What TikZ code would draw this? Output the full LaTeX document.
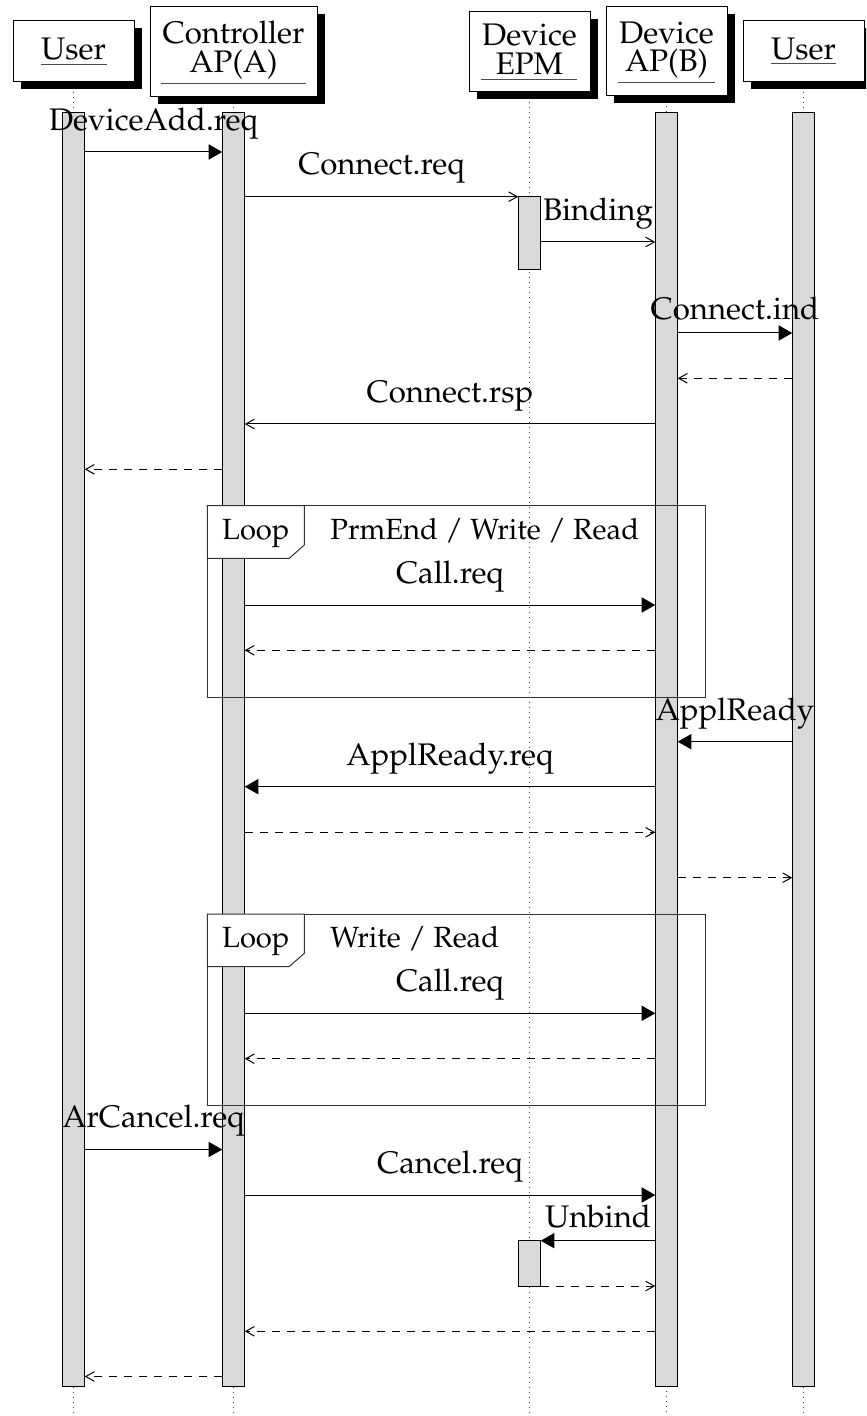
\documentclass[tikz,border=0pt]{standalone}
\usepackage[T1]{fontenc}
\usepackage{mathpazo}
\usetikzlibrary{arrows.meta,shadows,backgrounds}
\definecolor{barfill}{RGB}{217,217,217}

\tikzset{
  txt/.style={inner sep=0pt, font=\fontsize{15.6}{18.7}\selectfont},
  hdr/.style={draw=black, line width=0.5pt, fill=white, inner sep=0pt, outer sep=0pt,
    drop shadow={shadow xshift=4pt, shadow yshift=-3.5pt, fill=black, opacity=1}},
  life/.style={black!75, line width=0.5pt, dash pattern=on 0.5pt off 2pt},
  uline/.style={black!70, line width=0.5pt},
  actbar/.style={draw=black, fill=barfill, line width=0.5pt, inner sep=0pt,
    outer sep=0pt, minimum width=11.25pt, anchor=north},
  loopframe/.style={draw=black!80, line width=0.5pt, inner sep=0pt, outer sep=0pt,
    minimum width=248.85pt, minimum height=95.8pt, anchor=north west},
  looptag/.style={draw=black!80, fill=white, line width=0.5pt},
  looptxt/.style={inner sep=0pt, font=\fontsize{14.6}{17.5}\selectfont},
  callmsg/.style={draw=black, line width=0.5pt, -{Triangle[length=6.8pt,width=7.6pt]}},
  sendmsg/.style={draw=black, line width=0.5pt, -{Straight Barb[length=4.3pt,width=4.8pt]}},
  retmsg/.style={sendmsg, dash pattern=on 4pt off 3.5pt},
  lbl/.style={txt, anchor=south, yshift=6.2pt}
}

\begin{document}
\begin{tikzpicture}[x=0.5pt, y=-0.5pt]
\path[use as bounding box] (0,0) rectangle (866,1416);
\clip (0,0) rectangle (866,1416);

% ---- object headers ----
\node[hdr, minimum width=60.5pt, minimum height=30.5pt] (h1) at (73.5,51.5) {};
\node[hdr, minimum width=83.5pt, minimum height=45pt]   (h2) at (233.5,52) {};
\node[hdr, minimum width=60.5pt, minimum height=40pt]   (h3) at (529.5,52) {};
\node[hdr, minimum width=60.5pt, minimum height=44.5pt] (h4) at (666.5,51.5) {};
\node[hdr, minimum width=60.5pt, minimum height=30.5pt] (h5) at (803.5,51.5) {};

\node[txt, anchor=base] (t1)  at (73.5,60)    {User};
\node[txt, anchor=base] (t2a) at (233.5,43.5) {Controller};
\node[txt, anchor=base] (t2b) at (233.5,72.3) {AP(A)};
\node[txt, anchor=base] (t3a) at (529.5,45.5) {Device};
\node[txt, anchor=base] (t3b) at (529.5,74.5) {EPM};
\node[txt, anchor=base] (t4a) at (666.5,43.5) {Device};
\node[txt, anchor=base] (t4b) at (666.5,72)   {AP(B)};
\node[txt, anchor=base] (t5)  at (803.5,60)   {User};

\draw[uline] (41,64.3) -- (107,64.3);
\draw[uline] (161,83.3) -- (306,83.3);
\draw[uline] (481,79.3) -- (577,79.3);
\draw[uline] (618,83) -- (715,83);
\draw[uline] (771,63.8) -- (836,63.8);

% ---- lifelines ----
\coordinate (lend) at (0,1414);
\begin{scope}[on background layer]
  \foreach \h in {h1,h2,h3,h4,h5}
    \draw[life] (\h.south) -- (\h.south |- lend);
\end{scope}

% ---- activation bars ----
\node[actbar, minimum height=636.85pt] (ubar)  at (73.5,113)  {};
\node[actbar, minimum height=636.85pt] (cbar)  at (233.5,113) {};
\node[actbar, minimum height=636.85pt] (abar)  at (666.5,113) {};
\node[actbar, minimum height=636.85pt] (u2bar) at (803.5,113) {};
\node[actbar, minimum height=36.3pt]   (ebar)  at (529.5,196.7) {};
\node[actbar, minimum height=22.65pt]  (ebarb) at (529.5,1240.7) {};

% ---- loop fragments ----
\node[loopframe] (f1) at (207.3,505.7) {};
\draw[looptag] (f1.north west) -- ++(97,0) -- ++(0,39.3) -- ++(-15,13.3) -- ++(-82,0) -- cycle;
\node[looptxt, anchor=base] (g1) at (255.8,539.3) {Loop};
\node[looptxt, anchor=base west] (c1) at (330,539.3) {PrmEnd / Write / Read};

\node[loopframe] (f2) at (207.3,914) {};
\draw[looptag] (f2.north west) -- ++(97,0) -- ++(0,39.3) -- ++(-15,13.3) -- ++(-82,0) -- cycle;
\node[looptxt, anchor=base] (g2) at (255.8,947.6) {Loop};
\node[looptxt, anchor=base west] (c2) at (330,947.6) {Write / Read};

% ---- message rows ----
\coordinate (r1) at (0,152);
\coordinate (r2) at (0,196.7);
\coordinate (r3) at (0,242);
\coordinate (r4) at (0,333);
\coordinate (r5) at (0,378.3);
\coordinate (r6) at (0,424);
\coordinate (r7) at (0,469.3);
\coordinate (r8) at (0,605);
\coordinate (r9) at (0,650.3);
\coordinate (r10) at (0,741.7);
\coordinate (r11) at (0,786.7);
\coordinate (r12) at (0,832.3);
\coordinate (r13) at (0,877.7);
\coordinate (r14) at (0,1013.3);
\coordinate (r15) at (0,1058.7);
\coordinate (r16) at (0,1149.5);
\coordinate (r17) at (0,1195);
\coordinate (r18) at (0,1240.7);
\coordinate (r19) at (0,1286);
\coordinate (r20) at (0,1331.3);
\coordinate (r21) at (0,1376.5);

% ---- messages ----
\draw[callmsg] (ubar.east |- r1) -- node[lbl] (l1) {DeviceAdd.req} (cbar.west |- r1);
\draw[sendmsg] (cbar.east |- r2) -- node[lbl] (l2) {Connect.req} (ebar.west |- r2);
\draw[sendmsg] (ebar.east |- r3) -- node[lbl] (l3) {Binding} (abar.west |- r3);
\draw[callmsg] (abar.east |- r4) -- node[lbl] (l4) {Connect.ind} (u2bar.west |- r4);
\draw[retmsg]  (u2bar.west |- r5) -- (abar.east |- r5);
\draw[sendmsg] (abar.west |- r6) -- node[lbl] (l6) {Connect.rsp} (cbar.east |- r6);
\draw[retmsg]  (cbar.west |- r7) -- (ubar.east |- r7);

\draw[callmsg] (cbar.east |- r8) -- node[lbl] (l8) {Call.req} (abar.west |- r8);
\draw[retmsg]  (abar.west |- r9) -- (cbar.east |- r9);

\draw[callmsg] (u2bar.west |- r10) -- node[lbl] (l10) {ApplReady} (abar.east |- r10);
\draw[callmsg] (abar.west |- r11) -- node[lbl] (l11) {ApplReady.req} (cbar.east |- r11);
\draw[retmsg]  (cbar.east |- r12) -- (abar.west |- r12);
\draw[retmsg]  (abar.east |- r13) -- (u2bar.west |- r13);

\draw[callmsg] (cbar.east |- r14) -- node[lbl] (l14) {Call.req} (abar.west |- r14);
\draw[retmsg]  (abar.west |- r15) -- (cbar.east |- r15);

\draw[callmsg] (ubar.east |- r16) -- node[lbl] (l16) {ArCancel.req} (cbar.west |- r16);
\draw[callmsg] (cbar.east |- r17) -- node[lbl] (l17) {Cancel.req} (abar.west |- r17);
\draw[callmsg] (abar.west |- r18) -- node[lbl] (l18) {Unbind} (ebarb.east |- r18);
\draw[retmsg]  (ebarb.east |- r19) -- (abar.west |- r19);
\draw[retmsg]  (abar.west |- r20) -- (cbar.east |- r20);
\draw[retmsg]  (cbar.west |- r21) -- (ubar.east |- r21);
\end{tikzpicture}
\end{document}
